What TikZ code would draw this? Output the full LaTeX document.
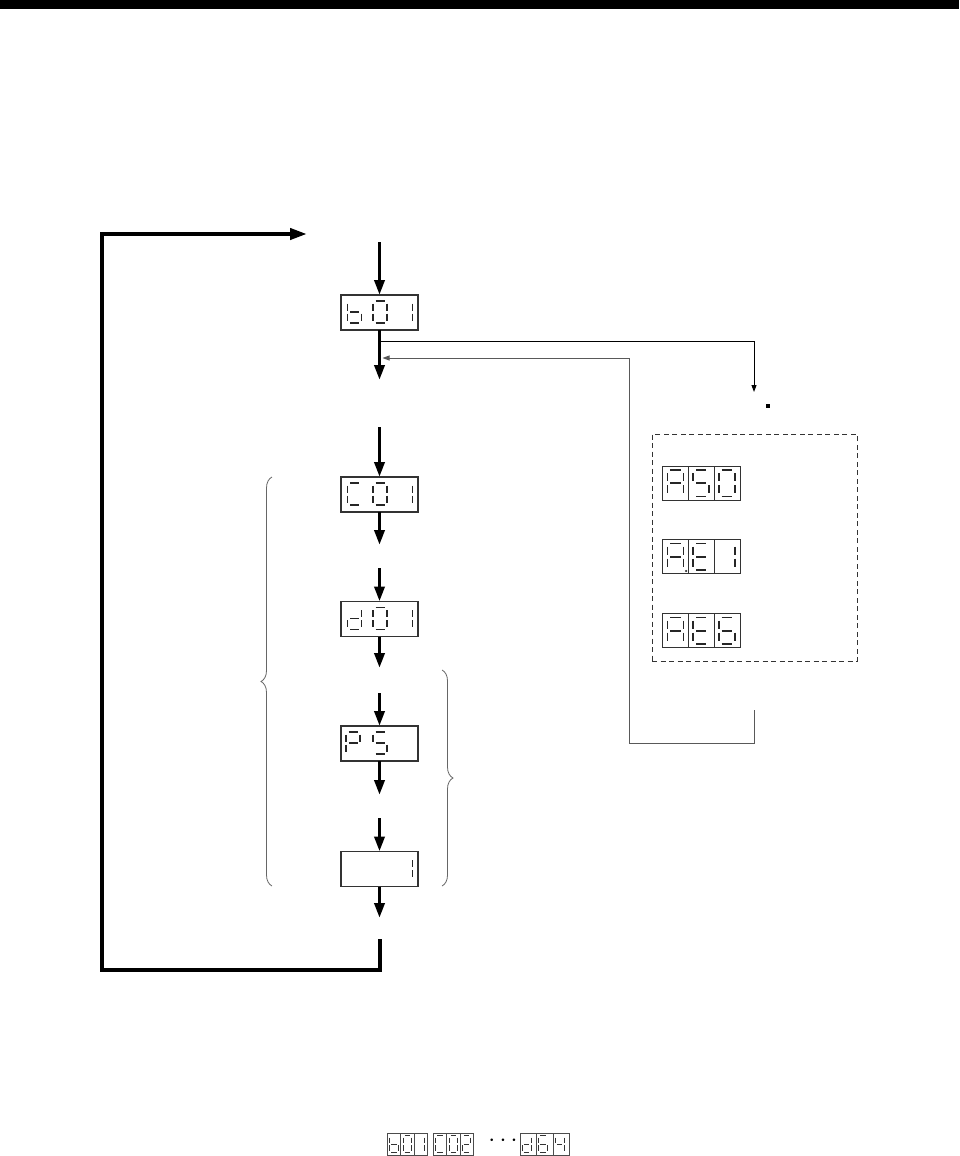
\documentclass[tikz,border=0pt]{standalone}
\usepackage{tikz}
\usetikzlibrary{arrows.meta,positioning,calc,decorations.pathreplacing}

% segments of one seven-segment digit, 14 wide and 22 high
\newcommand{\sega}{\draw[seg] (2.5,0) -- (11.5,0);}
\newcommand{\segb}{\draw[seg] (14,2.5) -- (14,9.5);}
\newcommand{\segc}{\draw[seg] (14,12.5) -- (14,19.5);}
\newcommand{\segd}{\draw[seg] (2.5,22) -- (11.5,22);}
\newcommand{\sege}{\draw[seg] (0,12.5) -- (0,19.5);}
\newcommand{\segf}{\draw[seg] (0,2.5) -- (0,9.5);}
\newcommand{\segg}{\draw[seg] (2.5,11) -- (11.5,11);}
\newcommand{\sevenseg}[3][]{%
  \begin{scope}[shift={#2},#1]
    \foreach \s in {#3} {\csname seg\s\endcsname}
  \end{scope}}
% three digits in a long display
\newcommand{\bigdigits}[4]{%
  \sevenseg{($(#1.north west)+(6.5,6)$)}{#2}
  \sevenseg{($(#1.north west)+(32,6)$)}{#3}
  \sevenseg{($(#1.north west)+(57.5,6)$)}{#4}}
% one digit in a framed cell
\newcommand{\cellglyph}[2]{\sevenseg[xscale=1.14,yscale=1.2]{($(#1.north west)+(4.5,4)$)}{#2}}
\newcommand{\tinyglyph}[2]{\sevenseg[xscale=0.62,yscale=0.77,seg/.style={line width=0.9pt,black!80}]{($(#1.north west)+(2.3,2.8)$)}{#2}}

\tikzset{
  seg/.style={line width=1.6pt, black!85},
  disp/.style={draw=black!80, line width=1.1pt, minimum width=77pt, minimum height=35pt, inner sep=0pt, outer sep=0pt},
  cell/.style={draw=black!80, line width=1pt, minimum width=25.7pt, minimum height=34pt, inner sep=0pt, outer sep=0pt},
  tinycell/.style={draw=black!70, line width=0.7pt, minimum width=13.3pt, minimum height=22pt, inner sep=0pt, outer sep=0pt},
  flow/.style={line width=3.6pt, -{Triangle[length=15pt,width=10pt]}},
  loopline/.style={line width=4pt, line join=miter, -{Triangle[length=17pt,width=11pt]}},
  link/.style={line width=0.9pt, -{Triangle[length=7pt,width=5pt]}},
  brc/.style={decorate, decoration={brace, amplitude=11pt}, black!60, line width=0.8pt},
}

\begin{document}
\begin{tikzpicture}[x=1pt,y=-1pt]
  \useasboundingbox (0,0) rectangle (959,1156);
  % header bar
  \fill (0,0) rectangle (959,9.5);

  % main column of displays
  \node[disp] (b01) at (379.5,312.5) {};
  \node[disp] (c01) at (379.5,494.5) {};
  \node[disp] (d01) at (379.5,619) {};
  \node[disp] (ps) at (379.5,743.5) {};
  \node[disp] (one) at (379.5,869) {};
  \bigdigits{b01}{c,d,e,f,g}{a,b,c,d,e,f}{b,c}
  \bigdigits{c01}{a,d,e,f}{a,b,c,d,e,f}{b,c}
  \bigdigits{d01}{b,c,d,e,g}{a,b,c,d,e,f}{b,c}
  \sevenseg{($(ps.north west)+(5,6)$)}{a,b,e,f,g}
  \sevenseg{($(ps.north west)+(32,6)$)}{a,c,d,f,g}
  \sevenseg{($(one.north west)+(57.5,6)$)}{b,c}

  % free ends of the arrows
  \coordinate (in1) at (379.5,242);
  \coordinate (out1) at (379.5,380);
  \coordinate (in2) at (379.5,427);
  \coordinate (out2) at (379.5,545);
  \coordinate (in3) at (379.5,568);
  \coordinate (out3) at (379.5,668);
  \coordinate (in4) at (379.5,693);
  \coordinate (out4) at (379.5,795);
  \coordinate (in5) at (379.5,818);
  \coordinate (out5) at (379.5,918);
  \coordinate (back) at (379.5,939);
  \coordinate (corner1) at (102,970);
  \coordinate (corner2) at (102,234);
  \coordinate (loopin) at (307,234);

  \draw[flow] (in1) -- (b01);
  \draw[flow] (b01) -- (out1);
  \draw[flow] (in2) -- (c01);
  \draw[flow] (c01) -- (out2);
  \draw[flow] (in3) -- (d01);
  \draw[flow] (d01) -- (out3);
  \draw[flow] (in4) -- (ps);
  \draw[flow] (ps) -- (out4);
  \draw[flow] (in5) -- (one);
  \draw[flow] (one) -- (out5);
  \draw[loopline] (back) |- (corner1) -- (corner2) -- (loopin);

  % braces
  \draw[brc] (272,886) -- (272,477);
  \draw[brc] (442,670) -- (442,886);

  % alarm displays
  \node[draw=black!80, dashed, dash pattern=on 5pt off 3.5pt, line width=0.9pt, minimum width=205pt, minimum height=227pt] (alarms) at (754.5,547.5) {};
  \node[cell] (a1) at (675.8,483) {};
  \node[cell, right=0pt of a1] (a2) {};
  \node[cell, right=0pt of a2] (a3) {};
  \node[cell] (e1) at (675.8,556.5) {};
  \node[cell, right=0pt of e1] (e2) {};
  \node[cell, right=0pt of e2] (e3) {};
  \node[cell] (f1) at (675.8,630.5) {};
  \node[cell, right=0pt of f1] (f2) {};
  \node[cell, right=0pt of f2] (f3) {};
  \cellglyph{a1}{a,b,c,e,f,g}
  \cellglyph{a2}{a,c,d,f,g}
  \cellglyph{a3}{a,b,c,d,e,f}
  \cellglyph{e1}{a,b,c,e,f,g}
  \cellglyph{e2}{a,d,e,f,g}
  \cellglyph{e3}{b,c}
  \cellglyph{f1}{a,b,c,e,f,g}
  \cellglyph{f2}{a,d,e,f,g}
  \cellglyph{f3}{a,c,d,e,f,g}
  \fill[black!80] ($(e1.south east)+(-2.5,-2.5)$) circle (1.2pt);

  % branch to the alarm displays and the way back
  \coordinate (branch) at (379.5,341);
  \coordinate (alarmtip) at (754,392);
  \coordinate (retstart) at (754,710);
  \coordinate (retturn) at (629,743);
  \coordinate (retin) at (382.5,358);
  \draw[link] (branch) -| (alarmtip);
  \draw[link, black!65] (retstart) |- (retturn) |- (retin);
  \fill (766,404) rectangle (770,408);

  % small displays at the foot
  \node[tinycell] (t1) at (394,1144) {};
  \node[tinycell, right=0pt of t1] (t2) {};
  \node[tinycell, right=0pt of t2] (t3) {};
  \node[tinycell] (u1) at (440,1144) {};
  \node[tinycell, right=0pt of u1] (u2) {};
  \node[tinycell, right=0pt of u2] (u3) {};
  \node (dots) at (503,1141) {\fontsize{30}{30}\selectfont$\cdots$};
  \node[tinycell, minimum width=16.5pt] (v1) at (528.3,1144) {};
  \node[tinycell, minimum width=16.5pt, right=0pt of v1] (v2) {};
  \node[tinycell, minimum width=16.5pt, right=0pt of v2] (v3) {};
  \tinyglyph{t1}{c,d,e,f,g}
  \tinyglyph{t2}{a,b,c,d,e,f}
  \tinyglyph{t3}{b,c}
  \tinyglyph{u1}{a,d,e,f}
  \tinyglyph{u2}{a,b,c,d,e,f}
  \tinyglyph{u3}{a,b,d,e,g}
  \tinyglyph{v1}{b,c,d,e,g}
  \tinyglyph{v2}{a,c,d,e,f,g}
  \tinyglyph{v3}{b,c,f,g}
\end{tikzpicture}
\end{document}
